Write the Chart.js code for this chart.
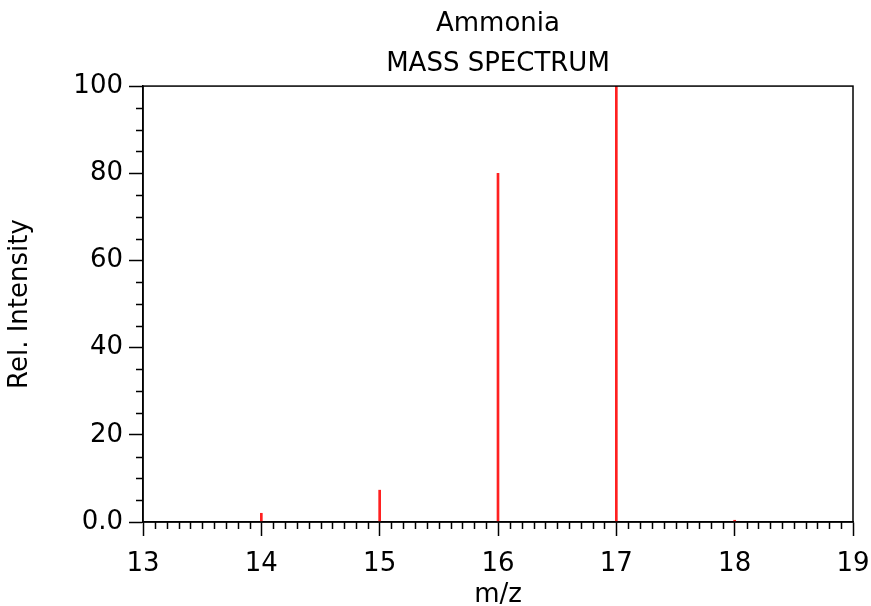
<!DOCTYPE html>
<html>
<head>
<meta charset="utf-8">
<title>Ammonia mass spectrum</title>
<script src="https://cdn.jsdelivr.net/npm/chart.js@4/dist/chart.umd.min.js"></script>
<style>
  html, body { margin: 0; padding: 0; background: #fff; }
  #wrap { width: 871px; height: 606px; }
</style>
</head>
<body>
<div id="wrap"><canvas id="spectrum"></canvas></div>
<script>
// peaks: m/z and relative intensity
var mzValues = [14, 15, 16, 17, 18];
var intensities = [2.0, 7.3, 80.0, 100, 0.4];
var yTicks = [0, 20, 40, 60, 80, 100];

var FONT = "'DejaVu Sans', sans-serif";
var FS = 26;

// minor tick marks and the box round the plot
var frameAndMinorTicks = {
  id: "frameAndMinorTicks",
  afterDraw: function (chart) {
    var c = chart.ctx;
    var a = chart.chartArea;
    var xs = chart.scales.x, ys = chart.scales.y;
    c.save();
    c.strokeStyle = "#000";
    c.lineWidth = 1.5;
    c.beginPath();
    for (var i = 130; i <= 190; i++) {
      if (i % 10 === 0) continue;
      var px = Math.round(xs.getPixelForValue(i / 10)) + 0.5;
      c.moveTo(px, a.bottom);
      c.lineTo(px, a.bottom + 7);
    }
    for (var v = 0; v <= 100; v += 5) {
      if (v % 20 === 0) continue;
      var py = Math.round(ys.getPixelForValue(v)) + 0.5;
      c.moveTo(a.left, py);
      c.lineTo(a.left - 7, py);
    }
    c.stroke();
    c.strokeRect(a.left, a.top, a.right - a.left, a.bottom - a.top);
    c.restore();
  }
};

new Chart(document.getElementById("spectrum").getContext("2d"), {
  type: "bar",
  data: {
    datasets: [{
      data: mzValues.map(function (m, i) { return { x: m, y: intensities[i] }; }),
      backgroundColor: "#ff2020",
      borderWidth: 0,
      barThickness: 2
    }]
  },
  options: {
    responsive: true,
    maintainAspectRatio: false,
    animation: false,
    layout: { padding: { top: 0, right: 18, bottom: 0, left: 0 } },
    plugins: {
      legend: { display: false },
      tooltip: { enabled: false },
      title: {
        display: true,
        fullSize: false,
        text: ["Ammonia", "MASS SPECTRUM"],
        color: "#000",
        font: { family: FONT, size: FS, weight: "normal", lineHeight: 1.54 },
        padding: { top: 4, bottom: 2 }
      }
    },
    scales: {
      x: {
        type: "linear",
        offset: false,
        min: 13,
        max: 19,
        ticks: {
          stepSize: 1,
          color: "#000",
          font: { family: FONT, size: FS },
          padding: 13
        },
        grid: { offset: false, drawOnChartArea: false, tickLength: 14, tickWidth: 1.5, tickColor: "#000" },
        border: { display: true, color: "#000", width: 1.5 },
        title: {
          display: true,
          text: "m/z",
          color: "#000",
          font: { family: FONT, size: FS, lineHeight: 0.8 },
          padding: 0
        },
        afterFit: function (s) {
          s.height = 84;
          s.paddingLeft = 0;
          s.paddingRight = 0;
        }
      },
      y: {
        min: 0,
        max: 100,
        afterBuildTicks: function (s) {
          s.ticks = yTicks.map(function (v) { return { value: v }; });
        },
        ticks: {
          color: "#000",
          font: { family: FONT, size: FS },
          padding: 6,
          callback: function (v) { return v === 0 ? "0.0" : String(v); }
        },
        grid: { drawOnChartArea: false, tickLength: 14, tickWidth: 1.5, tickColor: "#000" },
        border: { display: true, color: "#000", width: 1.5 },
        title: {
          display: true,
          text: "Rel. Intensity",
          color: "#000",
          font: { family: FONT, size: FS, lineHeight: 1.2 },
          padding: { top: 5, bottom: 0 }
        },
        afterFit: function (s) {
          s.width = 143;
          s.paddingTop = 0;
          s.paddingBottom = 0;
        }
      }
    }
  },
  plugins: [frameAndMinorTicks]
});
</script>
</body>
</html>
